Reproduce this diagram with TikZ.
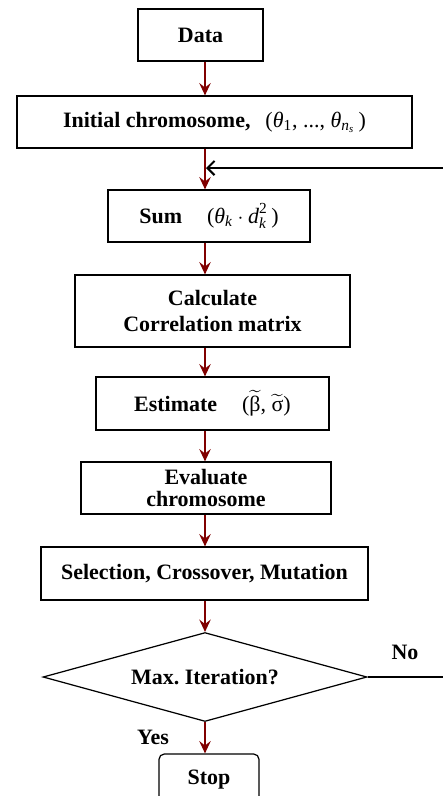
\documentclass[tikz,border=0pt]{standalone}
\usepackage{amsmath}
\usepackage{fontspec}
\setmainfont{Liberation Serif}
\usetikzlibrary{shapes.geometric,arrows.meta}
\definecolor{flowred}{RGB}{128,0,0}
\tikzset{
  box/.style={draw, line width=0.7pt, inner sep=0pt, align=center, font=\fontsize{12.5}{15}\selectfont\bfseries},
  flow/.style={color=flowred, line width=1pt, -{Stealth[length=7pt,width=6.5pt,inset=2.5pt]}},
  backline/.style={line width=1.2pt, -{Straight Barb[length=4pt,width=8pt]}},
  tag/.style={font=\fontsize{12.5}{15}\selectfont\bfseries}
}

\begin{document}
\begin{tikzpicture}[x=0.02cm, y=-0.02cm]
  \useasboundingbox (0,0) rectangle (443,796);
  \clip (0,0) rectangle (443,796);
  \coordinate (ax) at (205,0);

  % Ablauf
  \node[box, minimum width=2.5cm, minimum height=1.04cm] (data) at (200.5,35) {Data};
  \node[box, minimum width=7.9cm, minimum height=1.04cm] (init) at (214.5,122)
    {Initial chromosome,\hspace{0.3cm}\textnormal{(\textit{θ}\textsubscript{1}, ..., \textit{θ}\textsubscript{\textit{n}\textsubscript{\textit{s}}}\,)}};
  \node[box, minimum width=4.04cm, minimum height=1.04cm] (sum) at (209,216)
    {Sum\hspace{0.5cm}\textnormal{(\(\textit{θ}_{\textit{k}}\cdot\textit{d}_{\textit{k}}^{\textnormal{2}}\)\,)}};
  \node[box, minimum width=5.5cm, minimum height=1.44cm] (calc) at (212.5,311) {Calculate\\Correlation matrix};
  \node[box, minimum width=4.66cm, minimum height=1.06cm] (est) at (212.5,403.5)
    {Estimate\hspace{0.5cm}\textnormal{(\(\widetilde{\textnormal{β}}\), \(\widetilde{\textnormal{σ}}\))}};
  \node[box, minimum width=5.0cm, minimum height=1.04cm] (eval) at (206,488) {Evaluate\\[-2pt]chromosome};
  \node[box, minimum width=6.54cm, minimum height=1.06cm] (sel) at (204.5,573.5) {Selection, Crossover, Mutation};

  % Abbruch
  \node[box, diamond, aspect=3.6, minimum width=6.48cm, minimum height=1.78cm] (dec) at (205,677) {Max.\ Iteration?};
  \node[box, rounded corners=3pt, minimum width=2.0cm, minimum height=1.04cm] (stop) at (209,780) {Stop};
  \node[tag] (no) at (405,652) {No};
  \node[tag] (yes) at (153,737) {Yes};

  % Pfeile
  \coordinate (join) at (206,168);
  \draw[flow] (data.south -| ax) -- (init.north -| ax);
  \draw[flow] (init.south -| ax) -- (sum.north -| ax);
  \draw[flow] (sum.south -| ax) -- (calc.north -| ax);
  \draw[flow] (calc.south -| ax) -- (est.north -| ax);
  \draw[flow] (est.south -| ax) -- (eval.north -| ax);
  \draw[flow] (eval.south -| ax) -- (sel.north -| ax);
  \draw[flow] (sel.south -| ax) -- (dec.north);
  \draw[flow] (dec.south) -- (stop.north -| ax);

  % Rueckfuehrung
  \draw[backline] (dec.east) -- ++(95,0) |- (join);
\end{tikzpicture}
\end{document}
